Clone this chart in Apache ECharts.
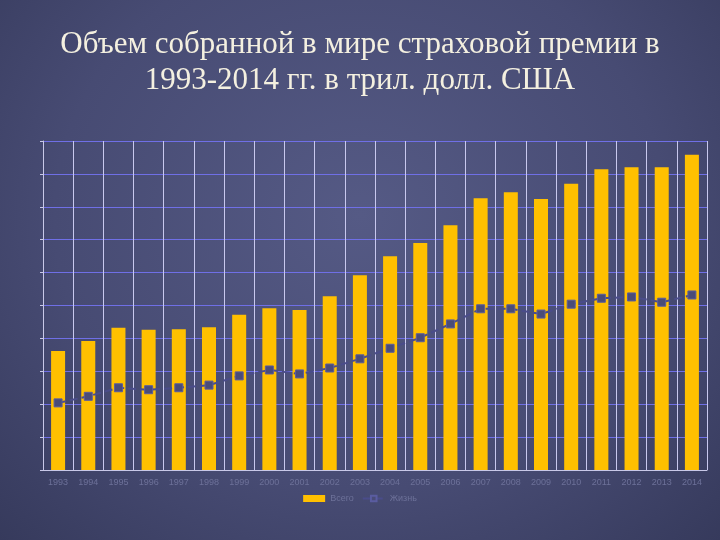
<!DOCTYPE html>
<html><head><meta charset="utf-8">
<script src="https://cdn.jsdelivr.net/npm/echarts@6/dist/echarts.min.js"></script>
<style>html,body{margin:0;padding:0;}#c{width:720px;height:540px;background:radial-gradient(ellipse at 50% 40%,#555a85 0%,#474b73 60%,#363a5c 100%);}</style>
</head><body><div id="c"></div>
<script>
const years=['1993','1994','1995','1996','1997','1998','1999','2000','2001','2002','2003','2004','2005','2006','2007','2008','2009','2010','2011','2012','2013','2014'];
const total=[1.81,1.96,2.16,2.13,2.14,2.17,2.36,2.46,2.43,2.64,2.96,3.25,3.45,3.72,4.13,4.22,4.12,4.35,4.57,4.60,4.60,4.79];
const life=[1.02,1.12,1.25,1.22,1.25,1.29,1.43,1.52,1.46,1.55,1.69,1.85,2.01,2.22,2.45,2.45,2.37,2.52,2.61,2.63,2.55,2.66];
const chart=echarts.init(document.getElementById('c'));
chart.setOption({
 title:{text:'Объем собранной в мире страховой премии в\n1993-2014 гг. в трил. долл. США',left:'center',top:22,
  textStyle:{fontFamily:'Liberation Serif',fontSize:31,fontWeight:'normal',color:'#f4f0e0',lineHeight:36}},
 grid:{left:43,right:13,top:141,bottom:70},
 legend:{bottom:32,left:'center',itemGap:8,textStyle:{color:'#6d7199',fontSize:9,fontFamily:'Liberation Sans'},
  data:[{name:'Всего',icon:'rect'},{name:'Жизнь'}],itemWidth:22,itemHeight:7},
 xAxis:{type:'category',data:years,axisTick:{show:false},
  axisLine:{lineStyle:{color:'#c8c8e8'}},
  axisLabel:{color:'#6d7199',fontSize:9,fontFamily:'Liberation Sans',margin:8},
  splitLine:{show:true,lineStyle:{color:'#c8c8ee',width:1}}},
 yAxis:{type:'value',min:0,max:5,interval:0.5,axisLabel:{show:false},
  axisLine:{show:true,lineStyle:{color:'#c8c8e8'}},axisTick:{show:true,length:3,lineStyle:{color:'#c8c8e8'}},
  splitLine:{lineStyle:{color:'#6f6fe6',width:1}}},
 series:[
  {name:'Всего',type:'bar',data:total,barWidth:14,itemStyle:{color:'#ffc000'}},
  {name:'Жизнь',type:'line',data:life,symbol:'rect',symbolSize:8,
   lineStyle:{color:'#4a4c8a',width:2,type:'dashed'},itemStyle:{color:'#4a4c78',borderColor:'#5a5ca0',borderWidth:1}}
 ]
});
</script></body></html>
